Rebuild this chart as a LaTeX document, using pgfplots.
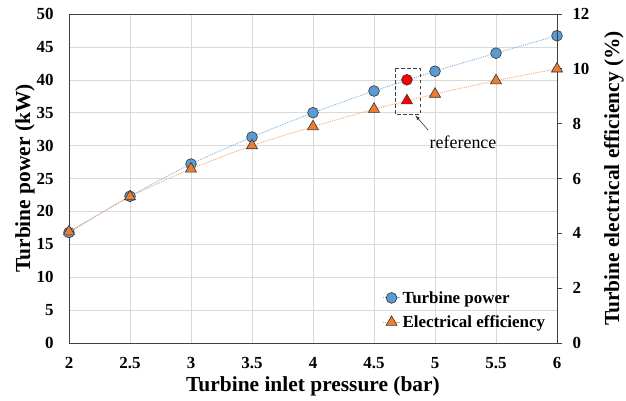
\documentclass[border=0pt]{standalone}
\usepackage{fontspec}
\setmainfont{Liberation Serif}
\usepackage{pgfplots}
\pgfplotsset{compat=1.18}
\definecolor{pblue}{HTML}{5B9BD5}
\definecolor{porange}{HTML}{ED7D31}
\definecolor{lblue}{HTML}{7FB2E0}
\definecolor{lorange}{HTML}{F4A46E}
\begin{document}
\begin{tikzpicture}
\pgfplotsset{
  powerstyle/.style={lblue, densely dotted, line width=0.9bp, smooth, tension=0.4, mark=*, mark size=5.4bp,
    mark options={solid, fill=pblue, draw=black!80, line width=0.6bp}},
  effstyle/.style={lorange, densely dotted, line width=0.9bp, smooth, tension=0.4, mark=triangle*, mark size=6.4bp,
    mark options={solid, fill=porange, draw=black!80, line width=0.6bp}},
}
\begin{axis}[name=ax1, scale only axis, width=488bp, height=329bp,
  xmin=2, xmax=6, ymin=0, ymax=50, clip=false,
  xtick={2,2.5,3,3.5,4,4.5,5,5.5,6},
  xticklabels={2,2.5,3,3.5,4,4.5,5,5.5,6},
  ytick={0,5,...,50},
  grid=major, grid style={draw=black!15, line width=0.6bp},
  axis line style={draw=black!75, line width=0.8bp},
  major tick length=0pt,
  tick label style={font=\fontsize{17}{20}\selectfont\bfseries},
  /pgf/number format/assume math mode=true,
  label style={font=\fontsize{21.5}{24}\selectfont\bfseries},
  xlabel={Turbine inlet pressure (bar)},
  ylabel={Turbine power (kW)},
  xlabel style={at={(axis description cs:0.5,-0.1310)}, anchor=center},
  ylabel style={at={(axis description cs:-0.0902,0.5)}, anchor=center},
  yticklabel style={xshift=-12bp},
  xticklabel style={yshift=-11bp},
]
\addplot[powerstyle] coordinates {
  (2,16.8) (2.5,22.3) (3,27.2) (3.5,31.3) (4,35.0) (4.5,38.3) (5,41.3) (5.5,44.05) (6,46.7)};
\addplot[only marks, mark=*, mark size=5.4bp, mark options={fill=red, draw=black!80, line width=0.6bp}] coordinates {(4.77,40.0)};
\end{axis}
\begin{axis}[scale only axis, width=488bp, height=329bp,
  xmin=2, xmax=6, ymin=0, ymax=12, clip=false,
  axis x line=none, axis y line*=right,
  ytick={0,2,...,12},
  axis line style={draw=black!75, line width=0.8bp},
  ytick style={draw=black!75, line width=0.8bp},
  tick align=outside, major tick length=5bp,
  tick label style={font=\fontsize{17}{20}\selectfont\bfseries},
  /pgf/number format/assume math mode=true,
  label style={font=\fontsize{21.5}{24}\selectfont\bfseries},
  ylabel={Turbine electrical efficiency (\%)},
  ylabel style={at={(axis description cs:1.1167,0.5)}, anchor=center},
  yticklabel style={xshift=7bp},
  legend style={draw=none, fill=none, font=\fontsize{17}{20}\selectfont\bfseries,
    at={(axis description cs:0.986,0.03)}, anchor=south east, row sep=7bp},
  legend cell align=left,
]
\addlegendimage{powerstyle}
\addlegendentry{Turbine power}
\addplot[effstyle] coordinates {
  (2,4.06) (2.5,5.34) (3,6.35) (3.5,7.2) (4,7.89) (4.5,8.53) (5,9.08) (5.5,9.57) (6,10.0)};
\addlegendentry{Electrical efficiency}
\addplot[only marks, forget plot, mark=triangle*, mark size=6.4bp, mark options={fill=red, draw=black!80, line width=0.6bp}] coordinates {(4.77,8.84)};
\draw[black!75, dashed, line width=0.9bp, dash pattern=on 3.5bp off 2.5bp] (axis cs:4.675,10.02) rectangle (axis cs:4.877,8.34);
\draw[black!80, line width=0.6bp, ->, >=latex] (axis cs:4.943,7.77) -- (axis cs:4.84,8.3);
\node[font=\fontsize{18}{20}\selectfont, anchor=center] at (axis cs:5.23,7.33) {reference};
\end{axis}
\pgfresetboundingbox
\path[use as bounding box] ([shift={(-69bp,-58bp)}]ax1.south west) rectangle ([shift={(69bp,14bp)}]ax1.north east);
\end{tikzpicture}
\end{document}
